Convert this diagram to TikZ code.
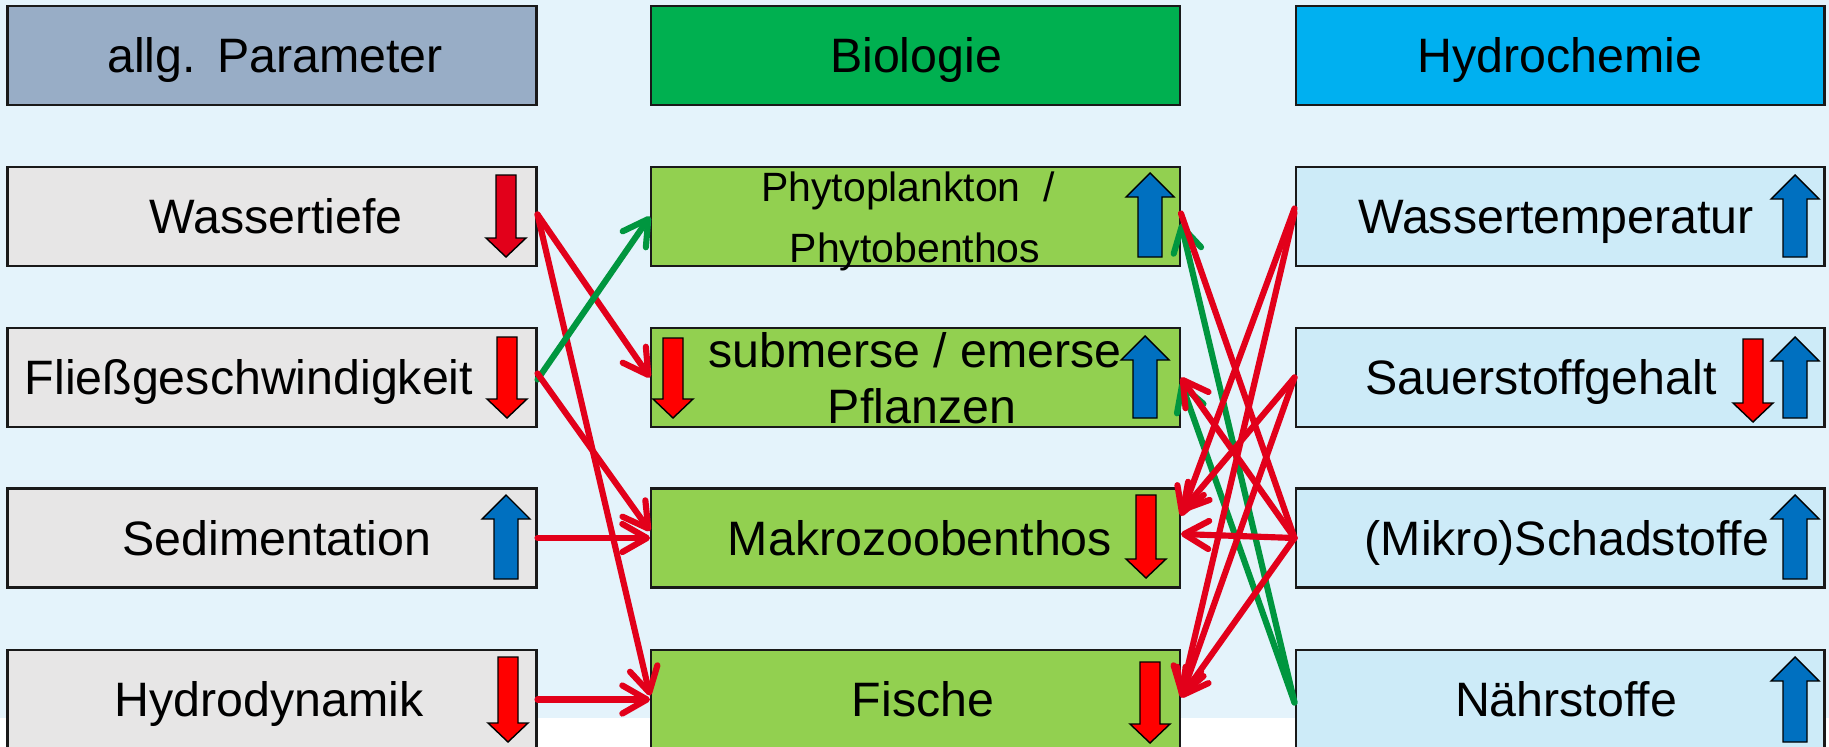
\documentclass[tikz,border=0pt]{standalone}
\usepackage{fontspec}
\setmainfont{Liberation Sans}
\usetikzlibrary{arrows.meta,calc}

\definecolor{bgblue}{HTML}{E4F3FB}
\definecolor{hdrgrey}{HTML}{98ADC6}
\definecolor{hdrgreen}{HTML}{00B050}
\definecolor{hdrblue}{HTML}{00B0F0}
\definecolor{parfill}{HTML}{E7E6E6}
\definecolor{biofill}{HTML}{92D050}
\definecolor{chemfill}{HTML}{CDEBF8}
\definecolor{linkred}{HTML}{E2001A}
\definecolor{linkgreen}{HTML}{00963F}
\definecolor{upblue}{HTML}{0070C0}
\definecolor{downred}{HTML}{FF0000}
\definecolor{darkred}{HTML}{E2001A}

% block arrow pointing up: centre x, tip y, bottom y, fill colour
\newcommand\blkup[4]{%
  \draw[blk, fill=#4] (#1-12,#3) -- (#1-12,#2+24) -- (#1-24,#2+24) -- (#1,#2)
    -- (#1+24,#2+24) -- (#1+12,#2+24) -- (#1+12,#3) -- cycle;}
% block arrow pointing down: centre x, top y, tip y, fill colour
\newcommand\blkdown[4]{%
  \draw[blk, fill=#4] (#1-10,#2) -- (#1-10,#3-19) -- (#1-20,#3-19) -- (#1,#3)
    -- (#1+20,#3-19) -- (#1+10,#3-19) -- (#1+10,#2) -- cycle;}

\begin{document}
\begin{tikzpicture}[x=0.02cm,y=-0.02cm,
  box/.style={draw=black!90, line width=1.2pt, minimum width=10.58cm,
    minimum height=1.98cm, inner sep=0pt},
  lbl/.style={anchor=base, inner sep=0pt, font=\fontsize{27.5}{33}\selectfont},
  smalllbl/.style={anchor=base, inner sep=0pt, font=\fontsize{23.3}{28}\selectfont},
  blk/.style={draw=black, line width=0.8pt, line join=miter},
  link/.style={line width=3.5pt, line cap=round,
    -{Straight Barb[length=14pt,width=16pt,round]}},
  redlink/.style={link, draw=linkred},
  greenlink/.style={link, draw=linkgreen},
  redline/.style={line width=3.5pt, line cap=round, draw=linkred},
]
\useasboundingbox (0,0) rectangle (1829,747);
\fill[white] (0,0) rectangle (1829,747);
\fill[bgblue] (0,0) rectangle (1829,718);

% column headers
\node[box, fill=hdrgrey]  (hpar)  at (272,55.5)   {};
\node[box, fill=hdrgreen] (hbio)  at (915.5,55.5) {};
\node[box, fill=hdrblue]  (hchem) at (1560,55.5)  {};

% general parameters
\node[box, fill=parfill] (par1) at (272,216.5) {};
\node[box, fill=parfill] (par2) at (272,377.5) {};
\node[box, fill=parfill] (par3) at (272,538)   {};
\node[box, fill=parfill] (par4) at (272,699.5) {};

% biology
\node[box, fill=biofill] (bio1) at (915.5,216.5) {};
\node[box, fill=biofill] (bio2) at (915.5,377.5) {};
\node[box, fill=biofill] (bio3) at (915.5,538)   {};
\node[box, fill=biofill] (bio4) at (915.5,699.5) {};

% hydrochemistry
\node[box, fill=chemfill] (chem1) at (1560,216.5) {};
\node[box, fill=chemfill] (chem2) at (1560,377.5) {};
\node[box, fill=chemfill] (chem3) at (1560,538)   {};
\node[box, fill=chemfill] (chem4) at (1560,699.5) {};

% labels
\node[lbl] (thpar)  at (275,72.5)  {allg.\ \,Parameter};
\node[lbl] (thbio)  at (916,72.5)  {Biologie};
\node[lbl] (thchem) at (1560,72.5) {Hydrochemie};

\node[lbl] (tpar1) at (276,233.5) {Wassertiefe};
\node[lbl] (tpar2) at (249,394.5) {Fließgeschwindigkeit};
\node[lbl] (tpar3) at (277,555)   {Sedimentation};
\node[lbl] (tpar4) at (269,716.5) {Hydrodynamik};

\node[smalllbl] (tbio1a) at (908,201) {Phytoplankton\hspace{0.55em}/};
\node[smalllbl] (tbio1b) at (915,262) {Phytobenthos};
\node[lbl] (tbio2a) at (915,367)   {submerse / emerse};
\node[lbl] (tbio2b) at (922,423)   {Pflanzen};
\node[lbl] (tbio3)  at (920,555)   {Makrozoobenthos};
\node[lbl] (tbio4)  at (923,716.5) {Fische};

\node[lbl] (tchem1) at (1556,233.5) {Wassertemperatur};
\node[lbl] (tchem2) at (1541,394.5) {Sauerstoffgehalt};
\node[lbl] (tchem3) at (1567,555)   {(Mikro)Schadstoffe};
\node[lbl] (tchem4) at (1566,716.5) {Nährstoffe};

% trend arrows inside the boxes
\blkdown{506}{175}{257}{darkred}
\blkdown{507}{337}{418}{downred}
\blkup{506}{495}{579}{upblue}
\blkdown{508}{657}{742}{downred}

\blkup{1150}{173}{257}{upblue}
\blkdown{673}{338}{418}{downred}
\blkup{1145}{336}{418}{upblue}
\blkdown{1146}{495}{578}{downred}
\blkdown{1150}{662}{743}{downred}

\blkup{1795}{175}{257}{upblue}
\blkdown{1753}{339}{422}{downred}
\blkup{1795}{337}{418}{upblue}
\blkup{1795}{495}{579}{upblue}
\blkup{1795}{657}{742}{upblue}

% influences of the general parameters
\draw[redlink] ($(par1.east)+(0,-2)$) -- (bio2.west);
\draw[redlink] ($(par1.east)+(0,-2)$) -- ($(bio4.west)+(0,-4)$);
\draw[greenlink] ($(par2.east)+(0,2)$) -- (bio1.west);
\draw[redlink] ($(par2.east)+(0,-4)$) -- ($(bio3.west)+(0,-7)$);
\draw[redlink] (par3.east) -- (bio3.west);
\draw[redlink] (par4.east) -- (bio4.west);

% influences of the hydrochemistry
\draw[greenlink] ($(chem4.west)+(0,3)$) -- ($(bio1.east)+(0,7)$);
\draw[greenlink] ($(chem4.west)+(0,3)$) -- ($(bio2.east)+(0,5)$);
\draw[redlink] ($(chem1.west)+(0,-8)$) -- ($(bio3.east)+(0,-22)$);
\draw[redlink] ($(chem1.west)+(0,-4)$) -- ($(bio4.east)+(0,-4)$);
\draw[redlink] (chem2.west) -- ($(bio3.east)+(0,-26)$);
\draw[redlink] (chem2.west) -- ($(bio4.east)+(0,-2)$);
\draw[redline] (chem3.west) -- ($(bio1.east)+(0,-3)$);
\draw[redlink] (chem3.west) -- (bio2.east);
\draw[redlink] (chem3.west) -- ($(bio3.east)+(0,-4)$);
\draw[redlink] (chem3.west) -- ($(bio4.east)+(0,-2)$);
\end{tikzpicture}
\end{document}
